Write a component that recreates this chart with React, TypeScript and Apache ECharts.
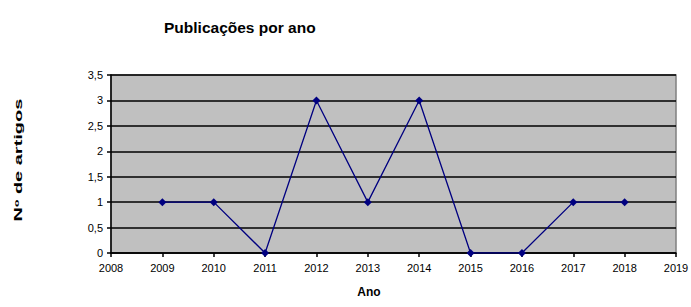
import React, { useEffect, useRef } from "react";
import * as echarts from "echarts";

const years = [2009, 2010, 2011, 2012, 2013, 2014, 2015, 2016, 2017, 2018];
const counts = [1, 1, 0, 3, 1, 3, 0, 0, 1, 1];
const titleText = "Publicações por ano";
const xName = "Ano";
const yName = "Nº de artigos";

export default function App() {
  const ref = useRef<HTMLDivElement>(null);
  useEffect(() => {
    const chart = echarts.init(ref.current!, null, { renderer: "svg" });
    const font = "Liberation Sans, Arial, sans-serif";
    chart.setOption({
      animation: false,
      backgroundColor: "#ffffff",
      textStyle: { fontFamily: font },
      title: {
        text: titleText,
        left: 159,
        top: 14,
        textStyle: { fontFamily: font, fontSize: 15.5, fontWeight: "bold", color: "#000" },
      },
      graphic: [
        {
          type: "text",
          x: 19,
          y: 160,
          rotation: Math.PI / 2,
          scaleX: 2,
          scaleY: 1,
          style: {
            text: yName,
            fontFamily: font,
            fontSize: 10,
            fontWeight: "bold",
            fill: "#000",
            align: "center",
            verticalAlign: "middle",
          },
        },
        {
          type: "text",
          x: 369,
          y: 292,
          style: {
            text: xName,
            fontFamily: font,
            fontSize: 12,
            fontWeight: "bold",
            fill: "#000",
            align: "center",
            verticalAlign: "middle",
          },
        },
      ],
      grid: {
        left: 111,
        right: 15,
        top: 75,
        bottom: 54,
        outerBoundsMode: "none",
        containLabel: false,
        show: true,
        backgroundColor: "#c0c0c0",
        borderColor: "#808080",
        borderWidth: 1.5,
      },
      xAxis: {
        type: "value",
        min: 2008,
        max: 2019,
        interval: 1,
        axisLine: { show: true, lineStyle: { color: "#000", width: 1.5 } },
        axisTick: { show: true, inside: false, length: 4, lineStyle: { color: "#000", width: 1.5 } },
        axisLabel: { fontFamily: font, fontSize: 11, color: "#000", margin: 9, formatter: (v: number) => String(v) },
        splitLine: { show: false },
      },
      yAxis: {
        type: "value",
        min: 0,
        max: 3.5,
        interval: 0.5,
        axisLine: { show: true, lineStyle: { color: "#000", width: 1.5 } },
        axisTick: { show: true, inside: false, length: 4, lineStyle: { color: "#000", width: 1.5 } },
        axisLabel: {
          fontFamily: font,
          fontSize: 11,
          color: "#000",
          margin: 8,
          formatter: (v: number) => String(v).replace(".", ","),
        },
        splitLine: { show: true, lineStyle: { color: "#000", width: 1.5 } },
      },
      series: [
        {
          type: "line",
          data: years.map((y, i) => [y, counts[i]]),
          symbol: "diamond",
          symbolSize: 8,
          itemStyle: { color: "#000080" },
          lineStyle: { color: "#000080", width: 1.3 },
        },
      ],
    });
    return () => chart.dispose();
  }, []);
  return (
    <div
      ref={ref}
      style={{ position: "absolute", left: 0, top: 0, width: 691, height: 307 }}
    />
  );
}
